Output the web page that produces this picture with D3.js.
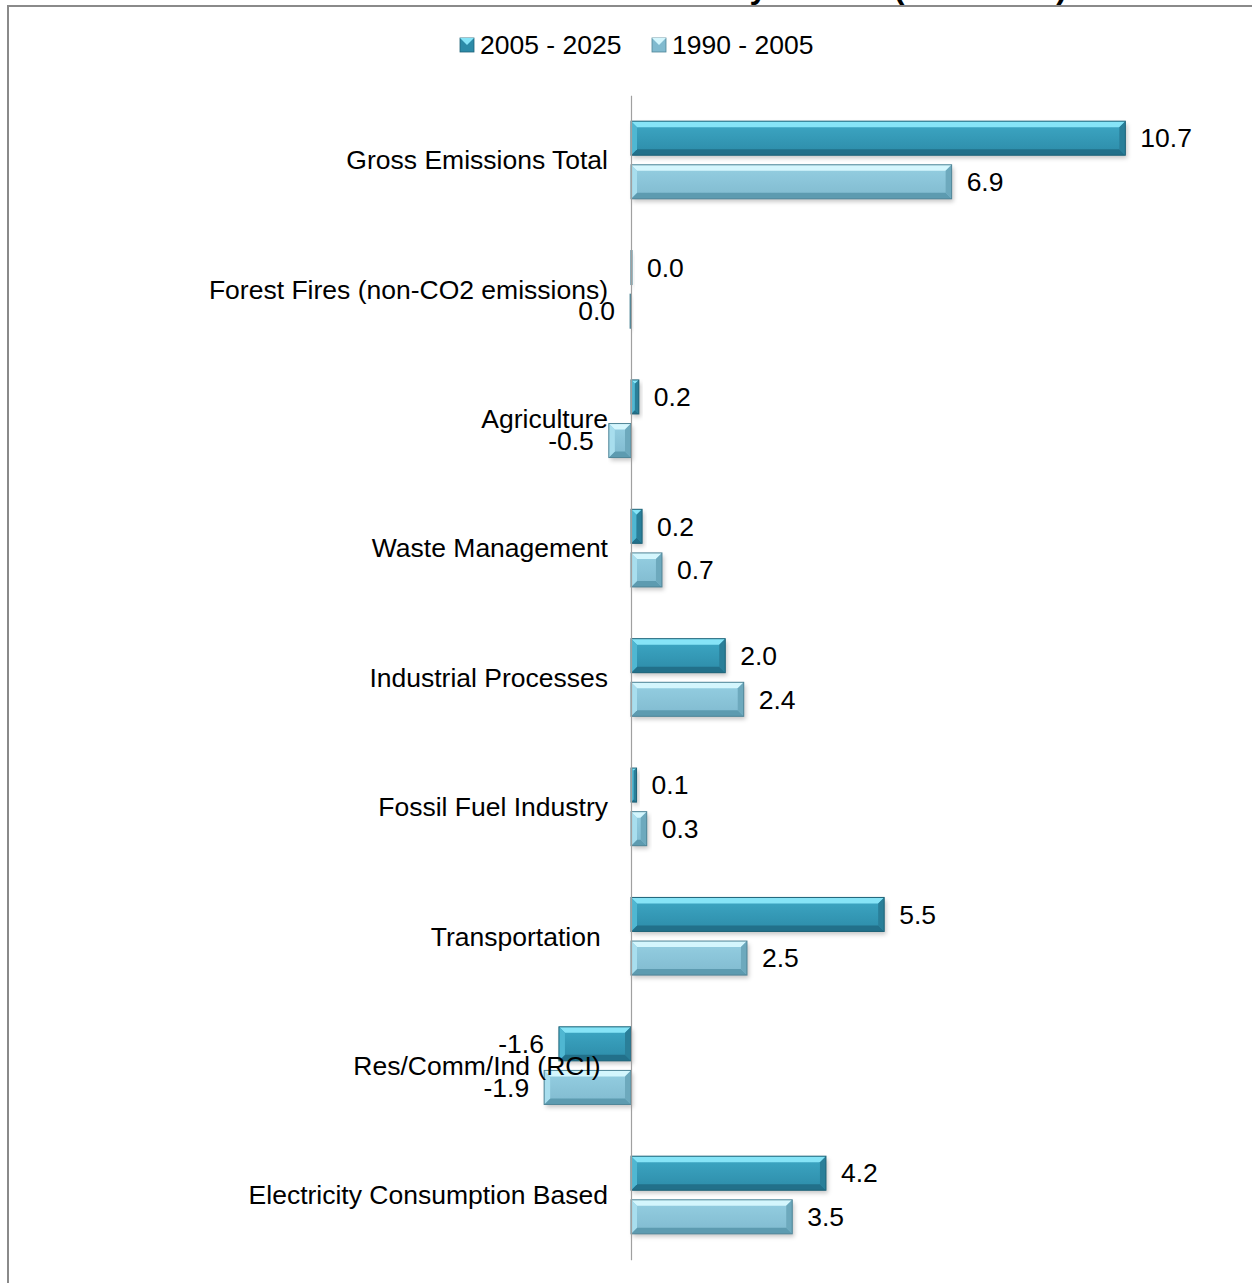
<!DOCTYPE html>
<html>
<head>
<meta charset="utf-8">
<script src="https://cdn.jsdelivr.net/npm/d3@7/dist/d3.min.js"></script>
<style>
  html, body { margin: 0; padding: 0; background: #fff; }
  svg { display: block; }
  text { font-family: "Liberation Sans", Arial, sans-serif; fill: #000; }
</style>
</head>
<body>
<svg id="chart" width="1252" height="1283"></svg>
<script>
// ---------- data ----------
const categories = [
  "Gross Emissions Total",
  "Forest Fires (non-CO2 emissions)",
  "Agriculture",
  "Waste Management",
  "Industrial Processes",
  "Fossil Fuel Industry",
  "Transportation ",
  "Res/Comm/Ind (RCI) ",
  "Electricity Consumption Based"
];
const seriesNames = ["2005 - 2025", "1990 - 2005"];
const values2005_2025 = [10.7, 0.02, 0.17, 0.24, 2.04, 0.12, 5.48, -1.56, 4.22];
const values1990_2005 = [6.94, -0.02, -0.48, 0.67, 2.44, 0.34, 2.51, -1.88, 3.49];
const xDomain = [-2, 12];
const titleText = "Emissions Growth by Sector (MMtCO\u2082e)";

// ---------- setup ----------
const svg = d3.select("#chart");
const W = 1252, H = 1283;
const FS = "26.5px";

const styles = {
  "2005 - 2025": { light: "#86e4f7", body0: "#3ea8c5", body1: "#2c8ba8", dark: "#22708a", left: "#4fb7d2", right: "#2a7f99", stroke: "#1f6378" },
  "1990 - 2005": { light: "#d4f6fd", body0: "#95cfe2", body1: "#80bacf", dark: "#5d9bb0", left: "#a8deee", right: "#6da9bd", stroke: "#4f8597" }
};

const defs = svg.append("defs");
seriesNames.forEach((s, i) => {
  const g = defs.append("linearGradient").attr("id", "body" + i)
    .attr("x1", 0).attr("y1", 0).attr("x2", 0).attr("y2", 1);
  g.append("stop").attr("offset", "0%").attr("stop-color", styles[s].body0);
  g.append("stop").attr("offset", "100%").attr("stop-color", styles[s].body1);
});
const f = defs.append("filter").attr("id", "shadow").attr("x", "-10%").attr("y", "-20%").attr("width", "130%").attr("height", "160%");
f.append("feGaussianBlur").attr("stdDeviation", 2);

// frame
svg.append("rect").attr("x", 8).attr("y", 6).attr("width", W + 50).attr("height", H + 50)
  .attr("fill", "none").attr("stroke", "#8a8a8a").attr("stroke-width", 2);

// title (mostly cut off above the page)
const title = svg.append("text").attr("x", 1068).attr("y", -2).attr("text-anchor", "end")
  .style("font-size", "32px").style("font-weight", "bold").style("letter-spacing", "1px").text(titleText);

// scales
const x = d3.scaleLinear().domain(xDomain).range([538.6, 1185.4]);
const y = d3.scaleBand().domain(categories).range([95.3, 1259.7]).paddingInner(0.4).paddingOuter(0.2);
const ys = d3.scaleBand().domain(seriesNames).range([0, y.bandwidth()]).paddingInner(0.22);

const rows = categories.map((c, i) => ({ cat: c, vals: [values2005_2025[i], values1990_2005[i]] }));
const bars = [];
rows.forEach(r => r.vals.forEach((v, j) => bars.push({ cat: r.cat, series: seriesNames[j], v })));

// bars
const gBars = svg.append("g");
bars.forEach(d => {
  const st = styles[d.series];
  const x0 = Math.min(x(0), x(d.v)), x1 = Math.max(x(0), x(d.v));
  const y0 = y(d.cat) + ys(d.series), h = ys.bandwidth(), y1 = y0 + h;
  const w = x1 - x0;
  const b = Math.min(6, w / 2, h / 2);
  const g = gBars.append("g");
  g.append("rect").attr("x", x0 + 2).attr("y", y0 + 3).attr("width", w).attr("height", h)
    .attr("fill", "rgba(0,0,0,0.22)").attr("filter", "url(#shadow)");
  g.append("rect").attr("x", x0).attr("y", y0).attr("width", w).attr("height", h)
    .attr("fill", "url(#body" + seriesNames.indexOf(d.series) + ")");
  const poly = (pts, fill) => g.append("polygon").attr("points", pts.map(p => p.join(",")).join(" ")).attr("fill", fill);
  poly([[x0, y0], [x1, y0], [x1 - b, y0 + b], [x0 + b, y0 + b]], st.light);
  poly([[x0, y1], [x1, y1], [x1 - b, y1 - b], [x0 + b, y1 - b]], st.dark);
  poly([[x0, y0], [x0 + b, y0 + b], [x0 + b, y1 - b], [x0, y1]], st.left);
  poly([[x1, y0], [x1 - b, y0 + b], [x1 - b, y1 - b], [x1, y1]], st.right);
  g.append("rect").attr("x", x0).attr("y", y0).attr("width", Math.max(w, 0.5)).attr("height", h)
    .attr("fill", "none").attr("stroke", st.stroke).attr("stroke-width", 1);
});

// category axis at zero
const axis = svg.append("g").attr("transform", `translate(${x(0)},0)`)
  .call(d3.axisLeft(y).tickSize(0).tickPadding(23));
axis.select(".domain").attr("stroke", "#a0a0a0").attr("stroke-width", 1.2);
axis.selectAll("text").style("font-size", FS).style("font-family", '"Liberation Sans", Arial, sans-serif')
  .style("white-space", "pre").attr("fill", "#000").attr("dy", "0.35em");

// value labels
const fmt = v => (Math.round(v * 10) / 10).toFixed(1);
svg.append("g").selectAll("text").data(bars).join("text")
  .attr("x", d => d.v < 0 ? x(d.v) - 15 : x(d.v) + 15)
  .attr("y", d => y(d.cat) + ys(d.series) + ys.bandwidth() / 2)
  .attr("dy", "0.35em")
  .attr("text-anchor", d => d.v < 0 ? "end" : "start")
  .style("font-size", FS)
  .text(d => fmt(d.v));

// legend
const legendX = [460, 652];
const lg = svg.append("g");
seriesNames.forEach((s, i) => {
  const st = styles[s];
  const sx = legendX[i], sy = 38, sz = 14;
  lg.append("rect").attr("x", sx).attr("y", sy).attr("width", sz).attr("height", sz).attr("fill", st.body1).attr("stroke", st.stroke).attr("stroke-width", 0.8);
  lg.append("polygon").attr("points", `${sx},${sy} ${sx + sz},${sy} ${sx + sz / 2},${sy + sz / 2}`).attr("fill", st.light);
  lg.append("text").attr("x", sx + sz + 6).attr("y", sy + sz / 2).attr("dy", "0.35em")
    .style("font-size", FS).style("white-space", "pre").text(s);
});
</script>
</body>
</html>
